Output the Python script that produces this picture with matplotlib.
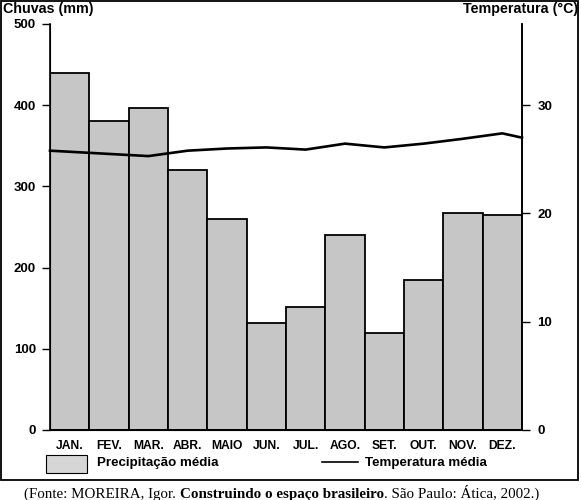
import matplotlib
matplotlib.use("Agg")
from matplotlib import pyplot as plt
from matplotlib.patches import Rectangle
from matplotlib.lines import Line2D
import numpy as np

months = ["JAN.", "FEV.", "MAR.", "ABR.", "MAIO", "JUN.",
          "JUL.", "AGO.", "SET.", "OUT.", "NOV.", "DEZ."]
rain = [440, 380, 396, 320, 260, 132, 152, 240, 120, 185, 267, 265]
temp = [25.7, 25.5, 25.3, 25.8, 26.0, 26.1, 25.9, 26.45, 26.1, 26.45, 26.9, 27.4]
# temperature where the curve meets the left / right frame of the plot
temp_edges = [25.8, 27.0]

rain_ticks = [0, 100, 200, 300, 400, 500]
temp_ticks = [0, 10, 20, 30]

plt.rcParams["font.family"] = ["Liberation Sans", "DejaVu Sans"]
plt.rcParams["font.weight"] = "bold"

W, H = 581, 500
fig = plt.figure(figsize=(W / 100, H / 100), dpi=100)
ax = fig.add_axes([50 / W, 1 - 430 / H, 472 / W, 406 / H])

x = np.arange(len(months))
ax.bar(x, rain, width=1.0, color="#c6c6c6", edgecolor="black", linewidth=1.3)
ax.set_xlim(-0.5, len(months) - 0.5)
ax.set_ylim(0, 500)
ax.set_yticks(rain_ticks)
ax.set_xticks(x)
ax.set_xticklabels(months)
ax.tick_params(axis="x", length=0, pad=7, labelsize=8.7)
ax.tick_params(axis="y", length=6, width=1, pad=4, labelsize=9.5)
ax.spines["top"].set_visible(False)
for s in ["left", "right", "bottom"]:
    ax.spines[s].set_linewidth(1.2)

ax2 = ax.twinx()
ax2.set_ylim(0, 37.5)
ax2.set_yticks(temp_ticks)
ax2.tick_params(axis="y", length=6, width=1, pad=5, labelsize=9.5)
ax2.spines["top"].set_visible(False)
ax2.spines["right"].set_linewidth(1.2)
xt = np.concatenate([[-0.5], x, [len(months) - 0.5]])
yt = [temp_edges[0]] + temp + [temp_edges[1]]
ax2.plot(xt, yt, color="black", linewidth=1.9, clip_on=False)

fig.text(3 / W, 1 - 9 / H, "Chuvas (mm)", ha="left", va="center", fontsize=10.3, weight="bold")
fig.text(578 / W, 1 - 9 / H, "Temperatura (°C)", ha="right", va="center", fontsize=10.3, weight="bold")

# legend
fig.patches.append(Rectangle((46 / W, 1 - 473 / H), 41 / W, 18 / H, transform=fig.transFigure,
                             facecolor="#d6d6d6", edgecolor="black", linewidth=0.8))
fig.text(97 / W, 1 - 463 / H, "Precipitação média", ha="left", va="center", fontsize=9.6, weight="bold")
fig.lines.append(Line2D([322 / W, 358 / W], [1 - 462 / H, 1 - 462 / H], transform=fig.transFigure,
                        color="black", linewidth=1.2))
fig.text(365 / W, 1 - 463 / H, "Temperatura média", ha="left", va="center", fontsize=9.6, weight="bold")

# frame
fig.patches.append(Rectangle((1 / W, 1 - 480 / H), 577 / W, 479 / H, transform=fig.transFigure,
                             facecolor="none", edgecolor="black", linewidth=1.3))

# source line
serif = ["Liberation Serif", "DejaVu Serif"]
base_y = 1 - 498 / H
t1 = fig.text(24 / W, base_y, "(Fonte: MOREIRA, Igor. ", ha="left", va="baseline",
              fontsize=10.8, family=serif, weight="normal")
t2 = fig.text(0, base_y, "Construindo o espaço brasileiro", va="baseline",
              fontsize=10.8, family=serif, weight="bold")
t3 = fig.text(0, base_y, ". São Paulo: Ática, 2002.)", va="baseline",
              fontsize=10.8, family=serif, weight="normal")
fig.canvas.draw()
r = fig.canvas.get_renderer()
b1 = t1.get_window_extent(r)
t2.set_position((b1.x1 / W, base_y))
b2 = t2.get_window_extent(r)
t3.set_position((b2.x1 / W, base_y))

fig.savefig("out.png", dpi=100)
plt.close()
